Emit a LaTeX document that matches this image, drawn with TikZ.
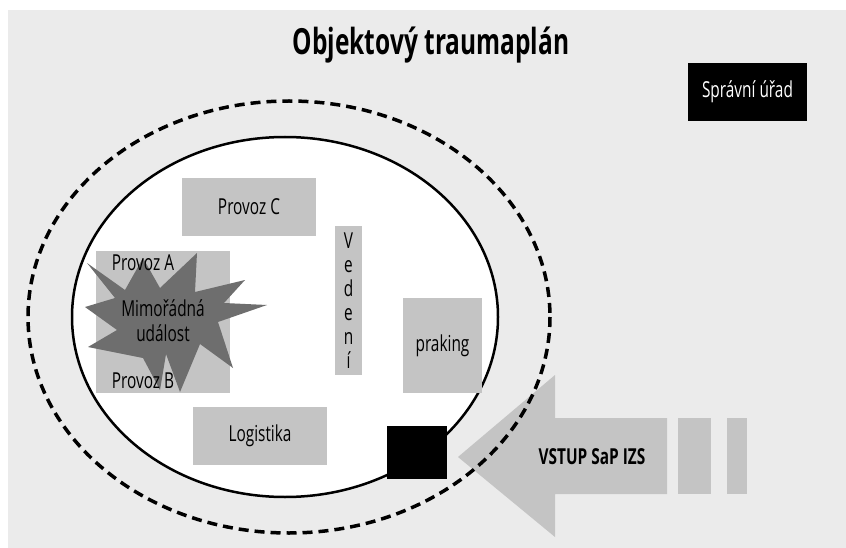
\documentclass[tikz,border=0pt]{standalone}
\usepackage{fontspec}
\setmainfont{Open Sans}[FakeStretch=0.7]
\newfontfamily\headfont{Open Sans}[FakeStretch=0.68]
\usetikzlibrary{calc}
\definecolor{bggray}{HTML}{EBEBEB}
\definecolor{boxgray}{HTML}{C4C4C4}
\definecolor{stargray}{HTML}{6E6E6E}
\tikzset{
  plainbox/.style={fill=boxgray, draw=none, inner sep=0pt, font=\fontsize{22}{24}\selectfont},
  label text/.style={inner sep=0pt, font=\fontsize{22}{24}\selectfont},
}
\begin{document}
\begin{tikzpicture}[x=1pt, y=-1pt]
  % page frame
  \useasboundingbox (0,0) rectangle (846,548);
  \fill[bggray] (8,10) rectangle (846,548);

  % title
  \node[inner sep=0pt, font=\headfont\fontsize{36}{40}\bfseries\selectfont] (title) at (431,45) {Objektový traumaplán};

  % administrative office
  \node[fill=black, text=white, inner sep=0pt, minimum width=119pt, minimum height=58pt,
        font=\fontsize{22}{24}\selectfont] (urad) at (747.5,92) {Správní úřad};

  % entry arrow of the rescue services
  \fill[boxgray] (458,457) -- (555,375) -- (555,418) -- (667,418) -- (667,494)
                 -- (555,494) -- (555,537) -- cycle;
  \fill[boxgray] (678,418) rectangle (711,494);
  \fill[boxgray] (727,418) rectangle (747,494);
  \node[inner sep=0pt, font=\fontsize{22}{24}\bfseries\selectfont] (vstup) at (592,457) {VSTUP SaP IZS};

  % zones
  \draw[line width=3.5pt, dash pattern=on 10pt off 6pt] (289,317) ellipse [x radius=261, y radius=216];
  \draw[fill=white, line width=2.5pt] (285,317) ellipse [x radius=213, y radius=180];

  % buildings
  \node[plainbox, minimum width=134pt, minimum height=58pt] (provozC) at (249,207) {Provoz C};
  \node[plainbox, minimum width=134pt, minimum height=71pt] (provozA) at (163,286.5) {};
  \node[plainbox, minimum width=134pt, minimum height=71pt] (provozB) at (163,357.5) {};
  \node[plainbox, minimum width=27pt, minimum height=149pt, align=center] (vedeni) at (348.5,300.5)
       {V\\e\\d\\e\\n\\í};
  \node[plainbox, minimum width=79pt, minimum height=95pt] (parking) at (442.5,345.5) {praking};
  \node[plainbox, minimum width=134pt, minimum height=58pt] (logistika) at (260,436) {Logistika};

  % emergency event
  \fill[stargray] (87,263) -- (125,290) -- (143,258) -- (160,288) -- (197,253) -- (195,292)
     -- (245,280) -- (224,303) -- (267,305) -- (218,322) -- (233,368) -- (200,344)
     -- (180,392) -- (166,354) -- (160,390) -- (143,358) -- (88,347) -- (117,330)
     -- (85,307) -- (115,298) -- cycle;
  \node[label text] (provozAtext) at (143,263) {Provoz A};
  \node[label text] (provozBtext) at (143,381) {Provoz B};
  \node[label text, align=center, font=\fontsize{22}{25}\selectfont] (udalost) at (163,321)
       {Mimořádná\\událost};

  % entry point
  \node[fill=black, inner sep=0pt, minimum width=60pt, minimum height=53pt] (vstupbod) at (417,452.5) {};
\end{tikzpicture}
\end{document}
